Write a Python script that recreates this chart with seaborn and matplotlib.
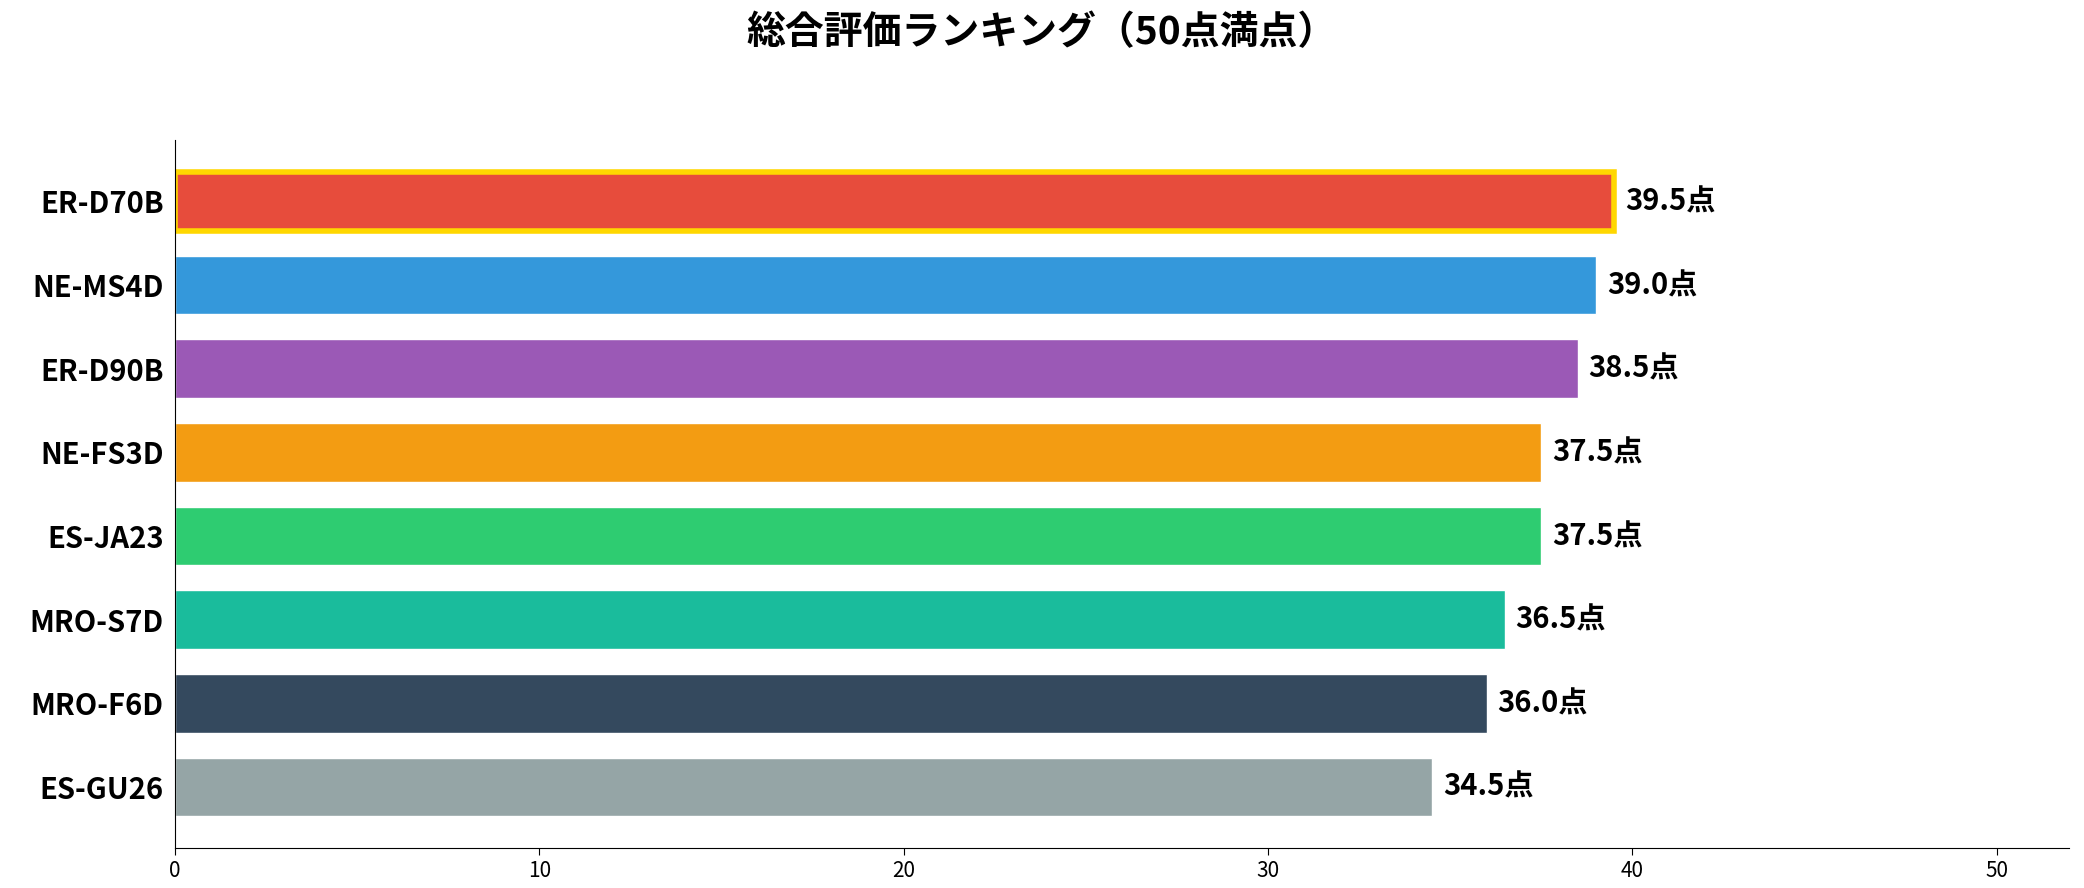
import matplotlib
matplotlib.use("Agg")
import matplotlib.pyplot as plt
import seaborn as sns
import pandas as pd

models = ["ER-D70B", "NE-MS4D", "ER-D90B", "NE-FS3D", "ES-JA23", "MRO-S7D", "MRO-F6D", "ES-GU26"]
scores = [39.5, 39.0, 38.5, 37.5, 37.5, 36.5, 36.0, 34.5]
colors = ["#e74c3c", "#3498db", "#9b59b6", "#f39c12", "#2ecc71", "#1abc9c", "#34495e", "#95a5a6"]

sns.set_style("white")
plt.rcParams['font.family'] = ['Noto Sans CJK JP', 'DejaVu Sans']
plt.rcParams['text.color'] = 'black'
plt.rcParams['xtick.color'] = 'black'
plt.rcParams['ytick.color'] = 'black'
plt.rcParams['axes.edgecolor'] = 'black'

df = pd.DataFrame({"model": models, "score": scores})
fig = plt.figure(figsize=(20.84, 8.88), dpi=100)
ax = fig.add_axes([0.084, 0.045, 0.909, 0.797])
sns.barplot(data=df, y="model", x="score", hue="model", palette=colors,
            orient="h", width=0.7, legend=False, ax=ax, saturation=1)
p0 = ax.patches[0]
p0.set_edgecolor("#FFD700"); p0.set_linewidth(4)
for p, s in zip(ax.patches, scores):
    ax.text(p.get_width() + 0.3, p.get_y() + p.get_height() / 2, f"{s:.1f}点",
            va="center", ha="left", fontsize=21, fontweight="bold")
ax.set_xlim(0, 52)
ax.set_ylim(7.73, -0.73)
ax.set_xticks([0, 10, 20, 30, 40, 50])
ax.tick_params(axis="x", labelsize=15, length=5, bottom=True)
ax.tick_params(axis="y", labelsize=21, length=0, pad=8)
for t in ax.get_yticklabels():
    t.set_fontweight("bold")
ax.set_xlabel(""); ax.set_ylabel("")
sns.despine(ax=ax)
fig.suptitle("総合評価ランキング（50点満点）", fontsize=28, fontweight="bold", y=0.985)
fig.savefig("out.png", dpi=100)
